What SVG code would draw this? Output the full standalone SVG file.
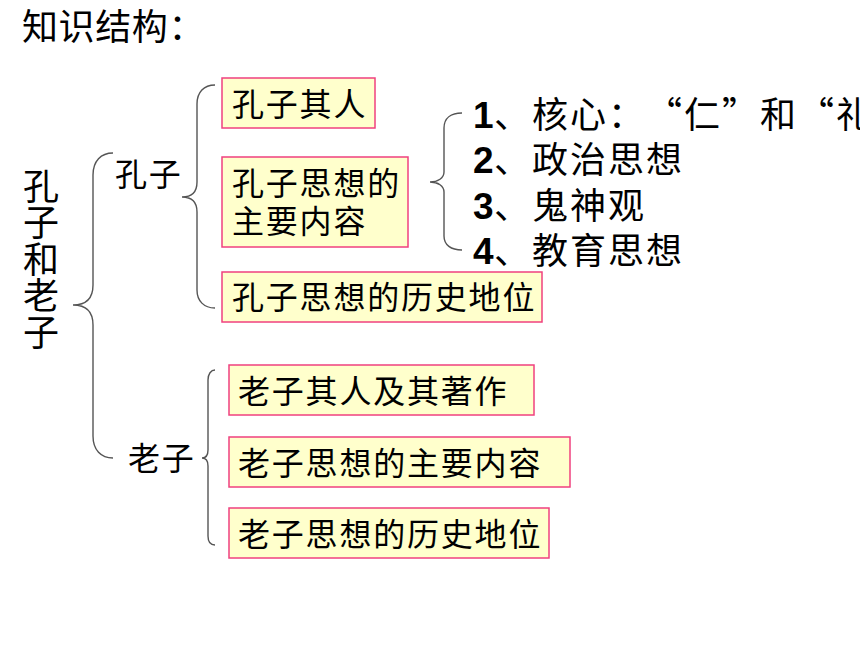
<svg xmlns="http://www.w3.org/2000/svg" width="860" height="645" viewBox="0 0 860 645">
<style>
text{font-family:"Noto Sans CJK SC","Liberation Sans",sans-serif;fill:#000;text-spacing-trim:space-all}
.t{font-size:32px;letter-spacing:1.8px}
.box{fill:#FFFFCC;stroke:#F0407F;stroke-width:1.5}
.br{fill:none;stroke:#555;stroke-width:1.4}
.list{font-size:36px;letter-spacing:2px}
.num{font-family:"Liberation Sans",sans-serif;font-weight:bold;font-size:37px;letter-spacing:0}
</style>
<rect width="860" height="645" fill="#fff"/>
<text id="title" x="22" y="40" style="font-size:36px;letter-spacing:0.6px">知识结构：</text>
<g id="root"><text x="41" y="168" style="font-size:36px;writing-mode:vertical-rl;letter-spacing:0.6px">孔子和老子</text></g>
<g id="connectors">
<path class="br" d="M113,153 C101,153 93,161 93,175 L93,285 C93,298 86,305 73,305 C86,305 93,312 93,325 L93,436 C93,450 101,458 113,458"/>
<path class="br" d="M215,85 C204,85 197,92 197,104 L197,182 C197,192 192,197 182,197 C192,197 197,202 197,212 L197,290 C197,301 204,308 215,308"/>
<path class="br" d="M215,370 C211,370 208,374 208,380 L208,450 C208,455 206,458 202,458 C206,458 208,461 208,466 L208,536 C208,542 211,545 215,545"/>
<path class="br" d="M462,113 C451,113 444,118 444,128 L444,172 C444,178 438,182 430,182 C438,182 444,186 444,192 L444,236 C444,245 451,250 462,250"/>
</g>
<g id="kongzi"><text class="t" x="115" y="186">孔子</text></g>
<g id="laozi"><text class="t" x="128" y="470">老子</text></g>
<g id="k1"><rect class="box" x="222" y="78" width="153" height="50"/><text class="t" x="232" y="116">孔子其人</text></g>
<g id="k2"><rect class="box" x="222" y="157" width="186" height="90"/><text class="t" x="232" y="195">孔子思想的</text><text class="t" x="232" y="233">主要内容</text></g>
<g id="k3"><rect class="box" x="222" y="272" width="320" height="50"/><text class="t" x="232" y="309">孔子思想的历史地位</text></g>
<g id="l1"><rect class="box" x="229" y="365" width="305" height="50"/><text class="t" x="238" y="403">老子其人及其著作</text></g>
<g id="l2"><rect class="box" x="229" y="437" width="341" height="50"/><text class="t" x="238" y="475">老子思想的主要内容</text></g>
<g id="l3"><rect class="box" x="229" y="508" width="320" height="50"/><text class="t" x="238" y="546">老子思想的历史地位</text></g>
<g id="list">
<text class="list" y="128"><tspan class="num" x="473">1</tspan><tspan x="494 532 570 608 646 684 722 760 798 836 874">、核心：“仁”和“礼”</tspan></text>
<text class="list" y="173"><tspan class="num" x="473">2</tspan><tspan x="494">、政治思想</tspan></text>
<text class="list" y="219"><tspan class="num" x="473">3</tspan><tspan x="494">、鬼神观</tspan></text>
<text class="list" y="264"><tspan class="num" x="473">4</tspan><tspan x="494">、教育思想</tspan></text>
</g>
</svg>
